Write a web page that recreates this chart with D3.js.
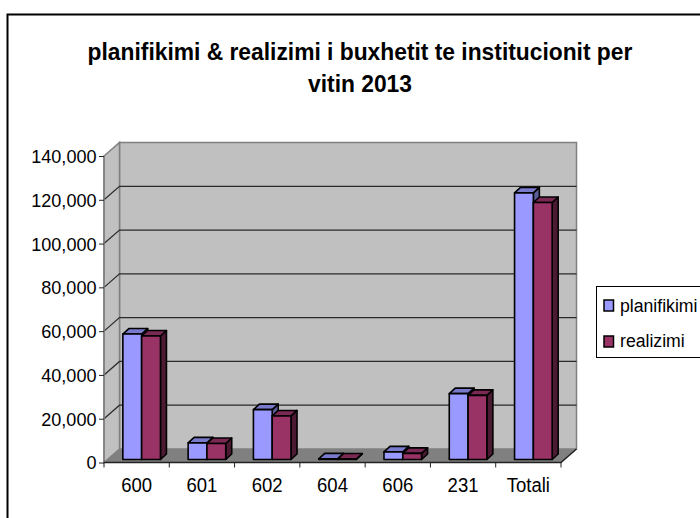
<!DOCTYPE html>
<html>
<head>
<meta charset="utf-8">
<script src="https://cdn.jsdelivr.net/npm/d3@7/dist/d3.min.js"></script>
<style>
    html, body { margin: 0; padding: 0; background: #fff; overflow: hidden; }
    svg { display: block; }
    text { font-family: "Liberation Sans", Arial, sans-serif; fill: #000; }
</style>
</head>
<body>
<div id="chart"></div>
<script>
const categories = ["600", "601", "602", "604", "606", "231", "Totali"];
const seriesNames = ["planifikimi", "realizimi"];
const planifikimi = [57300, 7600, 22800, 300, 3500, 30100, 121800];
const realizimi = [56400, 7300, 19900, 200, 2800, 29300, 117400];
const yTicks = [0, 20000, 40000, 60000, 80000, 100000, 120000, 140000];
const titleLines = ["planifikimi & realizimi i buxhetit te institucionit per", "vitin 2013"];

const width = 700, height = 518;
const depth = {x: 15.5, y: -13.5};      // wall offset from the front plane
const barDepth = {x: 6, y: -5.5};
const barShift = {x: 5, y: -3};         // bars stand in the middle of the floor

const colours = [
    {front: "#9999ff", top: "#7a7acc", side: "#5c5c99"},
    {front: "#993366", top: "#7a2952", side: "#4d1a33"}
];

const svg = d3.select("#chart").append("svg")
    .attr("width", width)
    .attr("height", height);

/**
 * The source text is a little narrower than the font, squeeze it to fit
 */
function squeeze(selection, factor){
    selection.each(function(){
        let w = this.getComputedTextLength();
        d3.select(this).attr("textLength", w * factor).attr("lengthAdjust", "spacingAndGlyphs");
    });
}

// Chart frame: only top and left edges are inside the crop
svg.append("path")
    .attr("d", d3.line()([[7.5, height], [7.5, 14.5], [width, 14.5]]))
    .attr("fill", "none")
    .attr("stroke", "#000")
    .attr("stroke-width", 2);

svg.selectAll(".title").data(titleLines).join("text")
    .attr("class", "title")
    .attr("x", 360)
    .attr("y", (d, i) => 60 + i * 32)
    .attr("text-anchor", "middle")
    .attr("font-weight", "bold")
    .attr("font-size", 24)
    .text(d => d)
    .call(squeeze, 0.95);

let x = d3.scaleBand().domain(categories).range([104, 561]);
let y = d3.scaleLinear().domain([0, 140000]).range([462.5, 156]);

const x0 = x.range()[0], x1 = x.range()[1];
const y0 = y(0), yTop = y(140000);
const line = d3.line();

// Back wall, side wall and floor
svg.append("rect")
    .attr("x", x0 + depth.x).attr("y", yTop + depth.y)
    .attr("width", x1 - x0).attr("height", y0 - yTop)
    .attr("fill", "#c0c0c0").attr("stroke", "#808080").attr("stroke-width", 1.5);
svg.append("path")
    .attr("d", line([[x0, y0], [x0, yTop], [x0 + depth.x, yTop + depth.y], [x0 + depth.x, y0 + depth.y]]) + "Z")
    .attr("fill", "#c0c0c0").attr("stroke", "#808080").attr("stroke-width", 1.5);
svg.append("path")
    .attr("d", line([[x0, y0], [x1, y0], [x1 + depth.x, y0 + depth.y], [x0 + depth.x, y0 + depth.y]]) + "Z")
    .attr("fill", "#808080");

// Gridlines run along the side wall and across the back wall
svg.selectAll(".grid").data(yTicks.slice(1, -1)).join("path")
    .attr("class", "grid")
    .attr("d", d => line([[x0, y(d)], [x0 + depth.x, y(d) + depth.y], [x1 + depth.x, y(d) + depth.y]]))
    .attr("fill", "none")
    .attr("stroke", "#2a2a2a")
    .attr("stroke-width", 1.2);

// Front edge of the floor and the value axis
svg.append("path")
    .attr("d", line([[x0, yTop], [x0, y0]]))
    .attr("stroke", "#808080").attr("stroke-width", 1.5);
svg.append("path")
    .attr("d", line([[x0, y0], [x1, y0], [x1 + depth.x, y0 + depth.y]]))
    .attr("fill", "none").attr("stroke", "#222").attr("stroke-width", 1.5);

const yAxis = d3.axisLeft(y).tickValues(yTicks).tickSize(5).tickFormat(d3.format(","));
const yG = svg.append("g").attr("transform", `translate(${x0},0)`).call(yAxis);
yG.select(".domain").remove();
yG.selectAll("line").attr("stroke", "#222");
yG.selectAll("text")
    .attr("font-size", 19).attr("font-family", "Liberation Sans")
    .attr("x", -7.5).attr("dy", "0.34em")
    .call(squeeze, 0.95);

const xAxis = d3.axisBottom(x).tickSize(0);
const xG = svg.append("g").attr("transform", `translate(0,${y0})`).call(xAxis);
xG.select(".domain").remove();
xG.selectAll("text")
    .attr("font-size", 19.5).attr("font-family", "Liberation Sans")
    .attr("y", 16).attr("dy", "0.71em")
    .call(squeeze, 0.95);
svg.selectAll(".xtick").data(d3.range(categories.length + 1)).join("line")
    .attr("class", "xtick")
    .attr("x1", i => x0 + i * x.step()).attr("x2", i => x0 + i * x.step())
    .attr("y1", y0).attr("y2", y0 + 5)
    .attr("stroke", "#222");

// One 3D bar: front face, top face and side face
const barWidth = 18.8;
function drawBar(g, cat, value, s){
    let left = x(cat) + x.bandwidth() / 2 + barShift.x + (s - 1) * barWidth;
    let right = left + barWidth;
    let bottom = y(0) + barShift.y;
    let top = y(value) + barShift.y;
    let c = colours[s];

    g.append("path")
        .attr("d", line([[right, top], [right + barDepth.x, top + barDepth.y], [right + barDepth.x, bottom + barDepth.y], [right, bottom]]) + "Z")
        .attr("fill", c.side);
    g.append("path")
        .attr("d", line([[left, top], [left + barDepth.x, top + barDepth.y], [right + barDepth.x, top + barDepth.y], [right, top]]) + "Z")
        .attr("fill", c.top);
    g.append("rect")
        .attr("x", left).attr("y", top)
        .attr("width", barWidth).attr("height", bottom - top)
        .attr("fill", c.front);
    g.selectAll("path,rect")
        .attr("stroke", "#000").attr("stroke-width", 1.6).attr("stroke-linejoin", "round");
}

categories.forEach((cat, i) => {
    let g = svg.append("g").attr("class", "bars");
    drawBar(g, cat, planifikimi[i], 0);
    drawBar(g, cat, realizimi[i], 1);
});

// Legend box runs off the picture edge like the source
const legend = svg.append("g");
legend.append("rect")
    .attr("x", 596.5).attr("y", 286.5)
    .attr("width", 120).attr("height", 71)
    .attr("fill", "#fff").attr("stroke", "#000");
seriesNames.forEach((name, i) => {
    legend.append("rect")
        .attr("x", 604).attr("y", 300 + i * 36)
        .attr("width", 9.5).attr("height", 11)
        .attr("fill", colours[i].front)
        .attr("stroke", "#000").attr("stroke-width", 1.5);
    legend.append("text")
        .attr("transform", `translate(620,${312 + i * 35}) scale(0.93,1)`)
        .attr("font-size", 19)
        .text(name);
});
</script>
</body>
</html>
